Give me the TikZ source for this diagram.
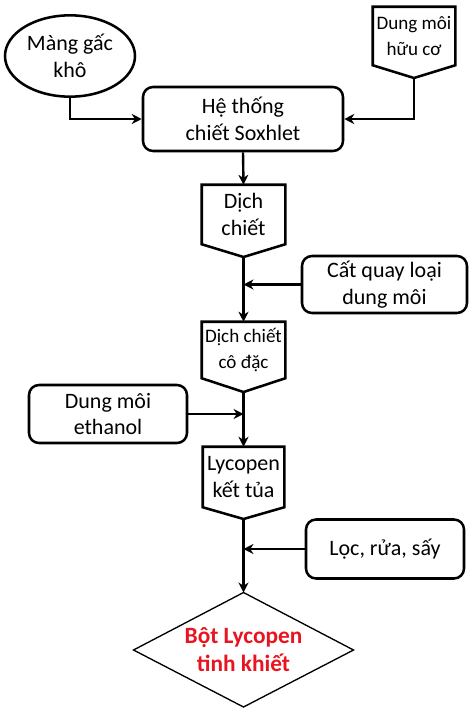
\documentclass[tikz,border=0pt]{standalone}
\usepackage{fontspec}
\setmainfont{Carlito}
\usetikzlibrary{arrows.meta,calc,shapes.geometric}
\definecolor{redtxt}{RGB}{232,20,32}
\tikzset{
  box/.style={draw,line width=1.9pt,rounded corners=7.5pt,align=center,inner sep=0pt,
    font=\fontsize{16.5}{20}\selectfont},
  pent/.style={inner sep=0pt,align=center},
  pentline/.style={draw,line width=1.9pt,line join=miter},
  conn/.style={line width=1.8pt,-{Stealth[length=7.5pt,width=7.5pt]}},
  big/.style={font=\fontsize{16.5}{20}\selectfont},
  small/.style={font=\fontsize{14.3}{20}\selectfont},
}
\begin{document}
\begin{tikzpicture}[x=0.75pt,y=-0.75pt]
\useasboundingbox (0,0) rectangle (474,714);
% ellipse
\node[draw,ellipse,line width=1.9pt,minimum width=97.5pt,minimum height=61pt,inner sep=0pt,align=center,big] (gac) at (70,56) {Màng gấc\\khô};
% soxhlet
\node[box,minimum width=150pt,minimum height=48pt] (sox) at (243,119) {Hệ thống\\chiết Soxhlet};
% dung moi huu co pentagon
\node[pent,small,minimum width=61.5pt,minimum height=43.5pt] (dm) at (414,36) {Dung môi\\hữu cơ};
\coordinate (dmp) at (414,78);
\draw[pentline] (dm.north west) -- (dm.north east) -- (dm.south east) -- (dmp) -- (dm.south west) -- cycle;
% dich chiet
\node[pent,big,minimum width=62.25pt,minimum height=44.25pt] (dich) at (243.5,214.5) {Dịch\\chiết};
\coordinate (dichp) at (243.5,257);
\draw[pentline] (dich.north west) -- (dich.north east) -- (dich.south east) -- (dichp) -- (dich.south west) -- cycle;
% cat quay
\node[box,minimum width=123.75pt,minimum height=42.75pt] (cat) at (384.5,284.5) {Cất quay loại\\dung môi};
% co dac
\node[pent,small,minimum width=62.25pt,minimum height=42pt] (cd) at (243.5,350) {Dịch chiết\\cô đặc};
\coordinate (cdp) at (243.5,392);
\draw[pentline] (cd.north west) -- (cd.north east) -- (cd.south east) -- (cdp) -- (cd.south west) -- cycle;
% ethanol
\node[box,minimum width=118.5pt,minimum height=43.5pt] (eth) at (108,414) {Dung môi\\ethanol};
% lycopen ket tua
\node[pent,big,minimum width=60.75pt,minimum height=45pt] (ly) at (243.5,477) {Lycopen\\kết tủa};
\coordinate (lyp) at (243.5,519);
\draw[pentline] (ly.north west) -- (ly.north east) -- (ly.south east) -- (lyp) -- (ly.south west) -- cycle;
% loc rua say
\node[box,minimum width=118.5pt,minimum height=44.25pt] (loc) at (385,549) {Lọc, rửa, sấy};
% diamond
\node[inner sep=0pt,align=center,text=redtxt,font=\fontsize{17.5}{21}\selectfont\bfseries] (bot) at (243.5,650) {Bột Lycopen\\tinh khiết};
\coordinate (bottop) at (243.5,592.5);
\draw[line width=1pt,line join=miter] (bottop) -- (353.5,650) -- (243.5,707) -- (133.5,650) -- cycle;
% connectors
\draw[conn] (gac.south) |- (sox.west);
\draw[conn] (dmp) |- (sox.east);
\draw[conn] (sox.south) -- (dich.north);
\draw[conn] (dichp) -- (cd.north);
\draw[conn] (cat.west) -- (cat.west -| dichp);
\draw[conn] (cdp) -- (ly.north);
\draw[conn] (eth.east) -- (eth.east -| cdp);
\draw[conn] (lyp) -- (bottop);
\draw[conn] (loc.west) -- (loc.west -| lyp);
\end{tikzpicture}
\end{document}
